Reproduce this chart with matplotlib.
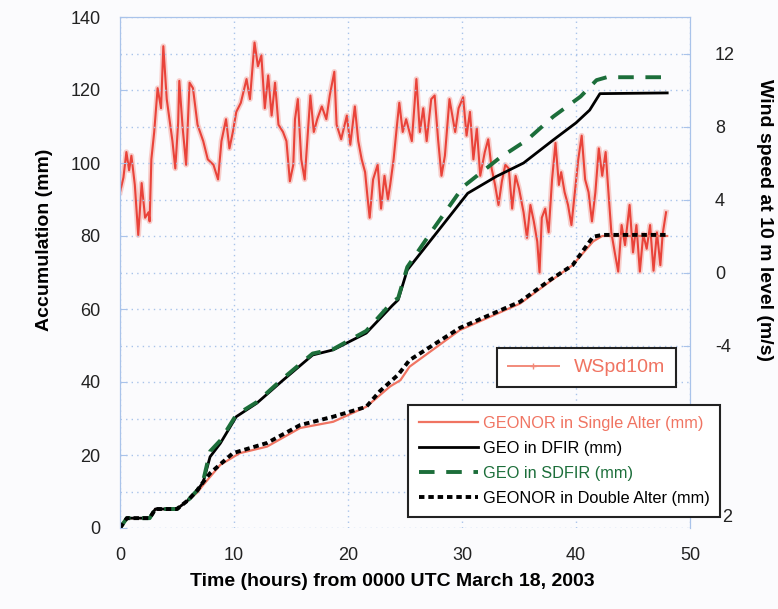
import numpy as np
import matplotlib
matplotlib.use('Agg')
import matplotlib.pyplot as plt
from matplotlib.lines import Line2D

plt.rcParams['font.family'] = ['Liberation Sans', 'DejaVu Sans']
plt.rcParams['axes.unicode_minus'] = False

# Accumulation curves (hours, mm)
dfir_h = [0, 0.6, 2.6, 3.1, 5.0, 6.0, 6.8, 7.3, 7.9, 8.8, 10.2, 12.0, 14.3, 16.9, 18.7,
          21.6, 23.9, 24.4, 25.2, 27.5, 30.5, 33.0, 35.4, 38.0, 40.0, 41.2, 42.1, 48]
dfir_mm = [0, 2.7, 2.7, 5.2, 5.2, 7.7, 10.4, 12.6, 19.5, 23.2, 30.5, 34.2, 40.5, 47.4, 48.8,
           53.4, 61, 62.5, 70.7, 79.8, 91.7, 96.3, 100, 106.3, 111, 114.5, 119, 119.2]

sdfir_h = [0, 0.6, 2.6, 3.1, 5.0, 6.0, 6.8, 7.3, 7.9, 8.8, 10.2, 12.0, 14.3, 16.9, 18.7,
           21.6, 23.9, 24.4, 25.2, 27.5, 30.1, 33.3, 35.7, 38.0, 40.4, 41.8, 42.7, 48]
sdfir_mm = [0, 2.7, 2.7, 5.2, 5.2, 7.7, 10.4, 13, 21, 24, 31, 34.5, 41, 47.8, 49,
            54, 62, 63, 71.5, 82, 93.5, 101.4, 106.3, 112.7, 118.2, 122.7, 123.5, 123.5]

single_h = [0, 0.6, 2.6, 3.1, 5.0, 6.0, 6.8, 7.3, 8.8, 10.5, 12.9, 15.8, 18.7, 21.6,
            23.7, 24.6, 25.4, 29.8, 35.1, 37.7, 39.7, 41.5, 42.3, 48]
single_mm = [0, 2.7, 2.7, 5.2, 5.2, 7.7, 9.8, 11.8, 17.3, 20.5, 22.3, 27.4, 29.1, 33.2,
             38.8, 40.5, 44.2, 54.2, 61.5, 67.5, 72, 78.5, 80, 80]

double_h = [0, 0.6, 2.6, 3.1, 5.0, 6.0, 6.8, 7.3, 7.9, 9.9, 12.9, 15.8, 18.7, 21.6,
            22.8, 24.4, 25.4, 29.8, 35.1, 37.7, 39.7, 41.5, 42.3, 48]
double_mm = [0, 2.7, 2.7, 5.2, 5.2, 7.7, 10.4, 12.6, 15, 20.5, 23.3, 28.2, 30.5, 33.2,
             37.5, 42, 46, 54.8, 62, 67.9, 72, 79.8, 80.3, 80.3]

# Wind speed at 10 m (hours, m/s)
wind_h = [0.0, 0.3, 0.56, 0.8, 1.0, 1.3, 1.6, 1.9, 2.2, 2.5, 2.6, 2.75, 3.0, 3.3, 3.6,
          3.8, 4.1, 4.4, 4.6, 4.85, 5.1, 5.2, 5.5, 5.8, 6.1, 6.4, 6.8, 7.3, 7.7, 8.2,
          8.6, 8.9, 9.3, 9.6, 9.9, 10.2, 10.6, 11.1, 11.4, 11.8, 12.1, 12.4, 12.7, 13.0,
          13.3, 13.6, 13.9, 14.3, 14.6, 14.9, 15.2, 15.35, 15.6, 15.9, 16.2, 16.7, 17.0,
          17.3, 17.7, 18.1, 18.4, 18.8, 19.0, 19.4, 19.9, 20.2, 20.6, 20.9, 21.2, 21.5,
          21.7, 21.9, 22.2, 22.6, 22.9, 23.2, 23.5, 23.7, 24.0, 24.3, 24.5, 24.8, 25.1,
          25.6, 26.0, 26.3, 26.6, 26.9, 27.3, 27.6, 27.9, 28.2, 28.5, 28.9, 29.4, 29.7,
          30.1, 30.4, 30.7, 31.0, 31.3, 31.6, 32.0, 32.3, 32.6, 32.9, 33.2, 33.5, 33.8,
          34.1, 34.4, 34.7, 35.0, 35.4, 35.7, 36.0, 36.3, 36.6, 36.8, 37.0, 37.3, 37.6,
          37.9, 38.2, 38.5, 38.7, 39.0, 39.3, 39.6, 39.9, 40.2, 40.5, 40.8, 41.1, 41.4,
          41.7, 42.0, 42.3, 42.6, 42.8, 43.1, 43.4, 43.7, 44.0, 44.3, 44.7, 45.0, 45.3,
          45.6, 45.9, 46.2, 46.5, 46.8, 47.1, 47.4, 47.6, 47.9]
wind_ms = [4.4, 5.2, 6.6, 5.6, 6.4, 4.8, 2.05, 4.9, 3.0, 3.3, 2.8, 6.2, 7.7, 10.1, 9.0,
           12.4, 9.5, 8.1, 7.2, 5.7, 8.2, 10.5, 7.9, 5.9, 10.4, 10.1, 8.1, 7.2, 6.2, 5.9,
           5.1, 7.2, 8.4, 6.8, 7.7, 8.8, 9.3, 10.6, 9.5, 12.6, 11.3, 11.9, 9.0, 10.8,
           8.6, 10.4, 8.1, 7.7, 7.2, 5.0, 5.9, 8.4, 9.5, 6.2, 5.1, 9.7, 7.7,
           8.4, 9.1, 8.4, 9.7, 11.0, 8.1, 7.3, 8.6, 7.0, 9.1, 7.2, 6.2, 5.5,
           4.2, 3.0, 5.1, 5.9, 3.5, 5.3, 4.0, 4.8, 6.2, 8.1, 9.3, 7.7, 8.4,
           7.2, 10.6, 7.7, 9.0, 7.2, 9.5, 9.7, 7.3, 5.3, 6.4, 9.5, 7.7, 9.0,
           9.6, 7.5, 8.8, 6.2, 7.9, 5.3, 6.6, 7.3, 5.7, 4.8, 3.7, 5.0, 5.9,
           5.7, 3.5, 5.3, 4.6, 3.3, 1.9, 3.7, 2.8, 1.7, 0.0, 3.0, 3.5, 2.2,
           5.1, 7.1, 4.8, 5.5, 4.4, 3.7, 2.6, 4.4, 6.2, 7.5, 5.1, 4.4, 2.8,
           4.4, 6.8, 5.3, 6.6, 4.8, 2.2, 1.1, 0.05, 2.6, 1.5, 3.7, 1.1, 2.6,
           0.05, 2.1, 1.3, 2.6, 0.1, 2.2, 0.4, 2.1, 3.3]

salmon = '#f07462'
wind_red = '#e8342a'
green = '#1c6e3a'
grid_blue = '#a9c3ea'

fig = plt.figure(figsize=(7.78, 6.09), dpi=100)
fig.patch.set_facecolor('#fbfbfd')
ax = fig.add_axes([120 / 778, 1 - 528 / 609, 570 / 778, 511 / 609])
ax.set_facecolor('#fbfbfd')
ax2 = ax.twinx()

# wind behind the accumulation curves
ax.set_zorder(2)
ax.patch.set_visible(False)
ax2.set_zorder(1)

# soft halo + core line to mimic the dense high-rate record
ax2.plot(wind_h, wind_ms, color='#f07a70', linewidth=4.0, alpha=0.35,
         solid_joinstyle='round')
ax2.plot(wind_h, wind_ms, color=wind_red, linewidth=1.5, alpha=0.9)
ax2.set_ylim(-14, 14)
ax2.set_yticks([-4, 0, 4, 8, 12])

ax.plot(single_h, single_mm, color=salmon, linewidth=1.6, label='GEONOR in Single Alter (mm)')
ax.plot(dfir_h, dfir_mm, color='black', linewidth=2.0, label='GEO in DFIR (mm)')
ax.plot(sdfir_h, sdfir_mm, color=green, linewidth=2.8, dashes=(4, 3), label='GEO in SDFIR (mm)')
ax.plot(double_h, double_mm, color='black', linewidth=2.8, dashes=(1.4, 1.0),
        label='GEONOR in Double Alter (mm)')

ax.set_xlim(0, 50)
ax.set_ylim(0, 140)
ax.set_xticks([0, 10, 20, 30, 40, 50])
ax.set_yticks(range(0, 141, 20))
ax.set_yticks(range(0, 141, 10), minor=True)
ax.grid(True, which='both', color=grid_blue, linestyle=(0, (1, 3)), linewidth=1.0)
ax.set_axisbelow(True)

for a in (ax, ax2):
    for side in ('left', 'right', 'top'):
        a.spines[side].set_color(grid_blue)
    a.spines['bottom'].set_visible(False)

ax.tick_params(axis='y', which='major', direction='in', length=5, color=grid_blue,
               labelsize=13, pad=14, labelcolor='#222222')
ax.tick_params(axis='y', which='minor', length=0)
ax.tick_params(axis='x', length=0, labelsize=13, pad=14, labelcolor='#222222')
ax2.tick_params(axis='y', direction='in', length=5, color=grid_blue, labelsize=13,
                pad=18, labelcolor='#222222')

fig.text(45 / 778, 1 - 240 / 609, 'Accumulation (mm)', rotation=90, fontsize=14,
         fontweight='bold', ha='center', va='center')
fig.text(392 / 778, 1 - 581 / 609, 'Time (hours) from 0000 UTC March 18, 2003', fontsize=14,
         fontweight='bold', ha='center', va='center')
fig.text(765 / 778, 1 - 220 / 609, 'Wind speed at 10 m level (m/s)', rotation=-90,
         fontsize=14, fontweight='bold', ha='center', va='center')

# wind legend
wind_handle = Line2D([], [], color='#f28a7a', linewidth=1.4, marker='+', markersize=4)
leg1 = fig.legend([wind_handle], ['WSpd10m'], loc='upper right',
                  bbox_to_anchor=(676 / 778, 1 - 348 / 609), borderaxespad=0,
                  fontsize=14, labelcolor=salmon, fancybox=False, framealpha=1,
                  edgecolor='#222222', handlelength=2.6, borderpad=0.55)
leg1.get_frame().set_linewidth(1.5)
leg1.set_zorder(5)

leg2 = fig.legend(*ax.get_legend_handles_labels(), loc='upper right',
                  bbox_to_anchor=(720 / 778, 1 - 405 / 609), borderaxespad=0,
                  fontsize=11.8, labelcolor='linecolor', fancybox=False, framealpha=1,
                  edgecolor='#222222', handlelength=3.6, handletextpad=0.3,
                  labelspacing=0.62, borderpad=0.65)
leg2.get_frame().set_linewidth(1.5)
leg2.set_zorder(5)

fig.text(722 / 778, 1 - 518 / 609, '2', fontsize=13, va='center', color='#222222')

plt.savefig('out.png', dpi=100, facecolor=fig.get_facecolor())
